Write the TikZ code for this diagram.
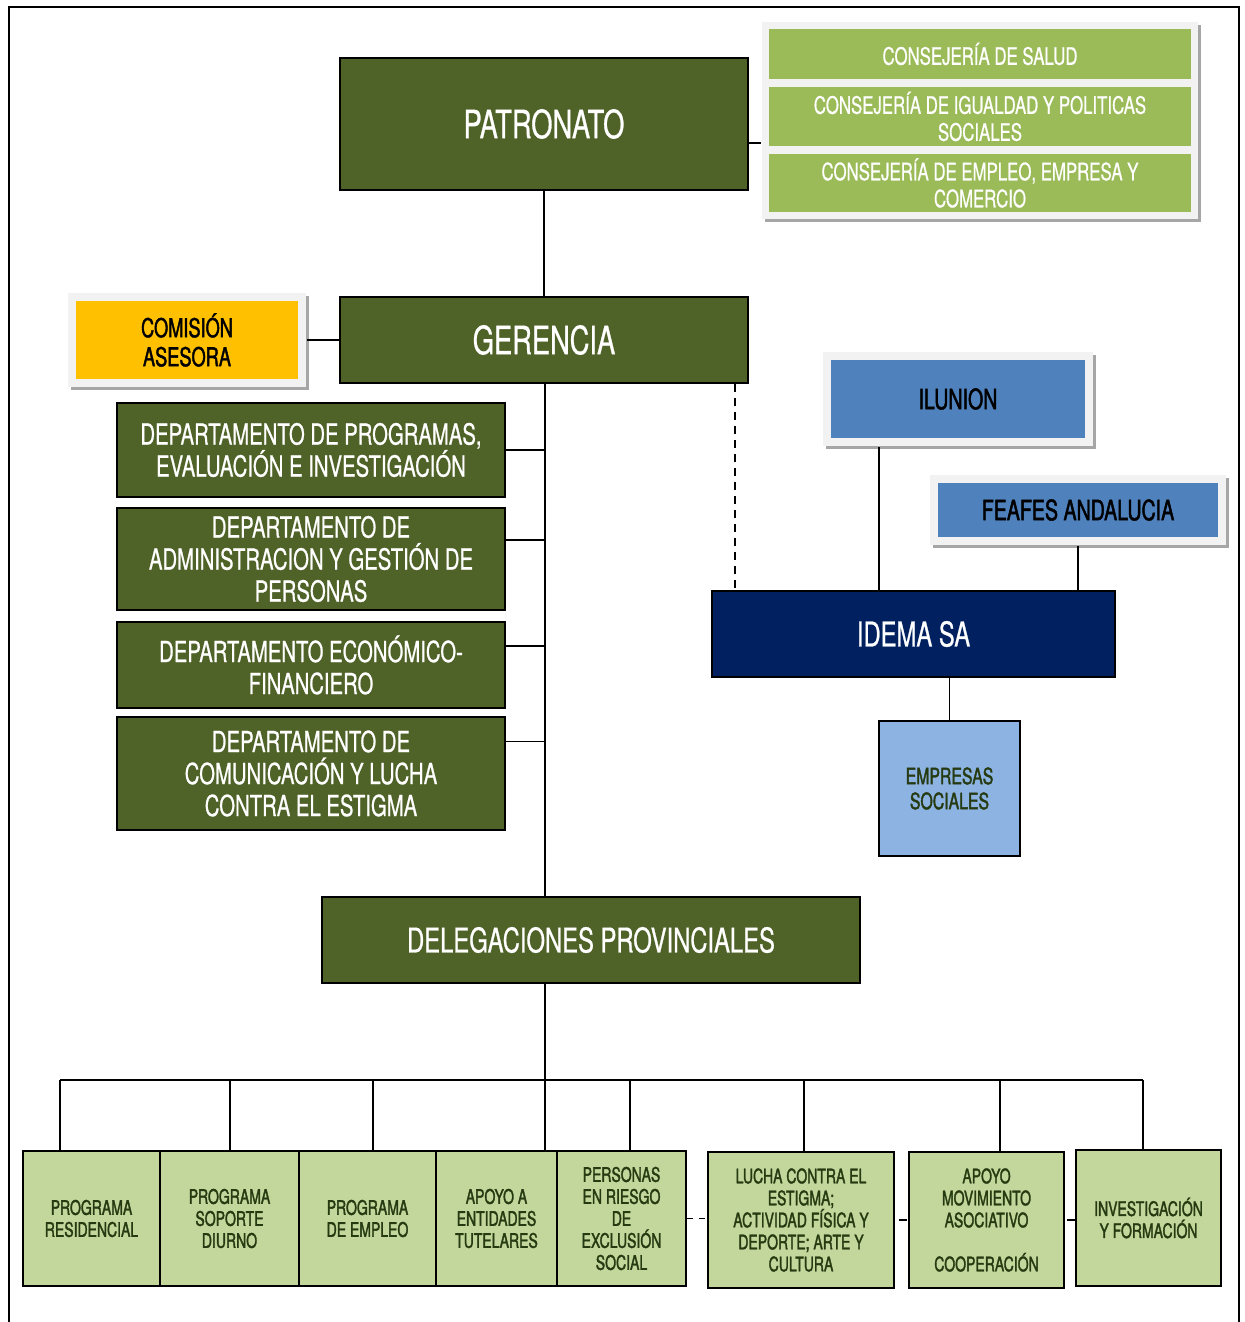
\documentclass[tikz,border=0pt]{standalone}
\usepackage{fontspec}
\setmainfont{TeX Gyre Heros}[FakeStretch=0.7, FakeBold=0.7]
\newfontfamily\heavyfont{TeX Gyre Heros}[FakeStretch=0.7, FakeBold=1.6]
\usepackage{tikz}
\usetikzlibrary{positioning, calc, fit, backgrounds, shadows}
\definecolor{orgolive}{HTML}{4F6228}
\definecolor{orglime}{HTML}{9BBB59}
\definecolor{orgyellow}{HTML}{FFC000}
\definecolor{orgblue}{HTML}{4F81BD}
\definecolor{orgnavy}{HTML}{002060}
\definecolor{orgsky}{HTML}{8DB3E2}
\definecolor{orgpale}{HTML}{C3D69B}
\definecolor{orgpanel}{HTML}{F2F2F2}
\definecolor{orgshade}{HTML}{A6A6A6}
\definecolor{orgtext}{HTML}{263A12}

\begin{document}
\begin{tikzpicture}[
  x=0.5pt, y=-0.5pt,
  box/.style={
    rectangle,
    draw=black,
    line width=1pt,
    fill=#1,
    align=center,
    inner sep=0pt
  },
  tile/.style={
    rectangle,
    fill=#1,
    align=center,
    inner sep=0pt
  },
  panel/.style={
    rectangle,
    fill=orgpanel,
    inner sep=#1,
    drop shadow={shadow xshift=1.5pt, shadow yshift=-1.5pt, fill=orgshade, opacity=1}
  },
  big/.style={text=white, font=\fontsize{19.5}{22}\selectfont},
  dept/.style={box=orgolive, minimum width=194pt, text=white, font=\fontsize{14.5}{16}\selectfont},
  cons/.style={tile=orglime, minimum width=211pt, text=white, font=\fontsize{12}{13.5}\selectfont},
  prog/.style={box=orgpale, line width=0.8pt, text=orgtext, font=\heavyfont\fontsize{10}{11}\selectfont},
  link/.style={black, line width=0.8pt}
]
  \useasboundingbox (0,0) rectangle (1245,1322);
  \draw[line width=1.3pt] (9,1322) -- (9,7) -- (1239,7) -- (1239,1322);

  \node[box=orgolive, big, minimum width=204pt, minimum height=66pt] (patronato) at (544,124) {PATRONATO};
  \node[cons, minimum height=25pt] (cons1) at (980,54) {CONSEJERÍA DE SALUD};
  \node[cons, minimum height=29.5pt] (cons2) at (980,116.5) {CONSEJERÍA DE IGUALDAD Y POLITICAS\\SOCIALES};
  \node[cons, minimum height=29pt] (cons3) at (980,183) {CONSEJERÍA DE EMPLEO, EMPRESA Y\\COMERCIO};
  \begin{scope}[on background layer]
    \node[panel=3.5pt, fit=(cons1) (cons3)] (conspanel) {};
  \end{scope}

  \node[box=orgolive, big, minimum width=204pt, minimum height=43pt] (gerencia) at (544,340) {GERENCIA};
  \node[tile=orgyellow, minimum width=111pt, minimum height=39pt, font=\heavyfont\fontsize{13}{14.5}\selectfont] (comision) at (187,340) {COMISIÓN\\ASESORA};
  \begin{scope}[on background layer]
    \node[panel=4pt, fit=(comision)] (comipanel) {};
  \end{scope}

  \node[dept, minimum height=47pt] (dep1) at (311,450) {DEPARTAMENTO DE PROGRAMAS,\\EVALUACIÓN E INVESTIGACIÓN};
  \node[dept, minimum height=51pt] (dep2) at (311,559) {DEPARTAMENTO DE\\ADMINISTRACION Y GESTIÓN DE\\PERSONAS};
  \node[dept, minimum height=43pt] (dep3) at (311,665) {DEPARTAMENTO ECONÓMICO-\\FINANCIERO};
  \node[dept, minimum height=56.5pt] (dep4) at (311,773.5) {DEPARTAMENTO DE\\COMUNICACIÓN Y LUCHA\\CONTRA EL ESTIGMA};

  \node[tile=orgblue, minimum width=127pt, minimum height=39pt, font=\heavyfont\fontsize{14}{16}\selectfont] (ilunion) at (958,399) {ILUNION};
  \node[tile=orgblue, minimum width=140pt, minimum height=27pt, font=\heavyfont\fontsize{14}{16}\selectfont] (feafes) at (1078,510) {FEAFES ANDALUCIA};
  \begin{scope}[on background layer]
    \node[panel=4pt, fit=(ilunion)] (ilupanel) {};
    \node[panel=4pt, fit=(feafes)] (feapanel) {};
  \end{scope}
  \node[box=orgnavy, minimum width=201.5pt, minimum height=43pt, text=white, font=\fontsize{17}{19}\selectfont] (idema) at (913.5,634) {IDEMA SA};
  \node[box=orgsky, minimum width=70.5pt, minimum height=67.5pt, text=orgtext, font=\heavyfont\fontsize{11.3}{12.5}\selectfont] (empresas) at (949.5,788.5) {EMPRESAS\\SOCIALES};

  \node[box=orgolive, minimum width=269pt, minimum height=43pt, text=white, font=\fontsize{17}{19}\selectfont] (deleg) at (591,940) {DELEGACIONES PROVINCIALES};

  \node[prog, minimum width=68.5pt, minimum height=67.5pt] (prog1) at (91.5,1218.5) {PROGRAMA\\RESIDENCIAL};
  \node[prog, minimum width=69.5pt, minimum height=67.5pt] (prog2) at (229.5,1218.5) {PROGRAMA\\SOPORTE\\DIURNO};
  \node[prog, minimum width=68.5pt, minimum height=67.5pt] (prog3) at (367.5,1218.5) {PROGRAMA\\DE EMPLEO};
  \node[prog, minimum width=60.5pt, minimum height=67.5pt] (prog4) at (496.5,1218.5) {APOYO A\\ENTIDADES\\TUTELARES};
  \node[prog, minimum width=64.5pt, minimum height=67.5pt] (prog5) at (621.5,1218.5) {PERSONAS\\EN RIESGO\\DE\\EXCLUSIÓN\\SOCIAL};
  \node[prog, minimum width=93pt, minimum height=68pt] (prog6) at (801,1220) {LUCHA CONTRA EL\\ESTIGMA;\\ACTIVIDAD FÍSICA Y\\DEPORTE; ARTE Y\\CULTURA};
  \node[prog, minimum width=77.5pt, minimum height=68pt] (prog7) at (986.5,1220) {APOYO\\MOVIMIENTO\\ASOCIATIVO\\[11pt]COOPERACIÓN};
  \node[prog, minimum width=72.5pt, minimum height=68pt] (prog8) at (1148.5,1218) {INVESTIGACIÓN\\Y FORMACIÓN};

  \draw[link] (patronato.east |- 0,143) -- (conspanel.west |- 0,143);
  \draw[link] (patronato.south) -- (gerencia.north);
  \draw[link] (comipanel.east) -- (gerencia.west);
  \coordinate (spine) at (545,383);
  \draw[link] (spine) -- (spine |- deleg.north);
  \draw[link] (dep1.east) -- (dep1.east -| spine);
  \draw[link] ([yshift=9.5pt]dep2.east) coordinate (d2) -- (d2 -| spine);
  \draw[link] ([yshift=9.5pt]dep3.east) coordinate (d3) -- (d3 -| spine);
  \draw[link] ([yshift=16pt]dep4.east) coordinate (d4) -- (d4 -| spine);
  \draw[link, dash pattern=on 4pt off 3pt] ([xshift=-7pt]gerencia.south east) coordinate (g) -- (g |- idema.north);
  \draw[link] ([xshift=-39.5pt]ilupanel.south) coordinate (il) -- (il |- idema.north);
  \draw[link] (feapanel.south) -- (feapanel.south |- idema.north);
  \draw[link] (empresas.north) -- (empresas.north |- idema.south);

  \coordinate (bus) at (545,1080);
  \draw[link] (deleg.south -| bus) -- (bus);
  \draw[link] (60,1080) -- (1143,1080);
  \foreach \x/\b in {60/prog1, 230/prog2, 373/prog3, 545/prog4, 630/prog5, 804/prog6, 1000/prog7, 1143/prog8}
    \draw[link] (\x,1080) -- (\x,1080 |- \b.north);
  \draw[link, dash pattern=on 3pt off 3pt] (prog5.east) -- (prog5.east -| prog6.west);
  \draw[link, dash pattern=on 0pt off 2pt on 4pt off 2pt] (prog6.east) -- (prog6.east -| prog7.west);
  \draw[link, dash pattern=on 0pt off 1pt on 5pt off 2pt] (prog7.east) -- (prog7.east -| prog8.west);
\end{tikzpicture}
\end{document}
